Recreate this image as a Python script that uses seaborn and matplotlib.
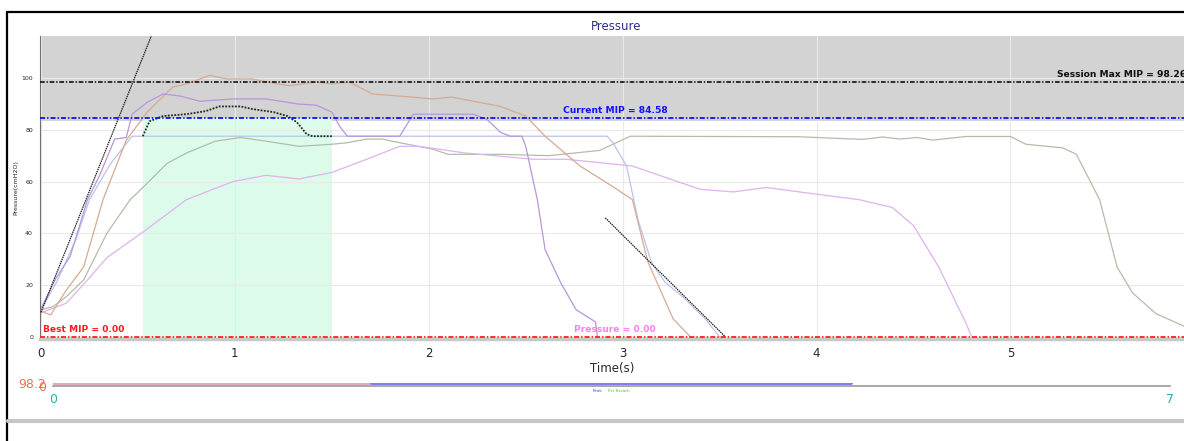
import matplotlib
matplotlib.use("Agg")
import matplotlib.pyplot as plt
from matplotlib.lines import Line2D
from matplotlib.ticker import MultipleLocator
import seaborn as sns

# Кривые давления по вдохам (время, с / давление, cmH2O)
brown_t = [0, 0.05, 0.13, 0.22, 0.32, 0.44, 0.55, 0.68, 0.75, 0.87, 0.96, 1.09, 1.22, 1.28, 1.42, 1.5,
           1.59, 1.71, 1.85, 2.02, 2.12, 2.37, 2.5, 2.6, 2.78, 2.95, 3.05, 3.13, 3.26, 3.35]
brown_p = [10, 8.5, 18, 27, 53, 76, 87, 96.5, 97.7, 101, 99.6, 99.6, 97.7, 97, 98.4, 97.7,
           98.4, 93.8, 93, 91.9, 92.6, 89, 85.3, 77.5, 66, 58, 53, 29, 7, 0]

purple_t = [0, 0.08, 0.15, 0.24, 0.3, 0.38, 0.44, 0.47, 0.55, 0.63, 0.72, 0.82, 0.99, 1.16, 1.33, 1.42,
            1.5, 1.54, 1.58, 1.85, 1.92, 2.23, 2.3, 2.37, 2.42, 2.48, 2.5, 2.56, 2.6, 2.68, 2.76, 2.86, 2.87]
purple_p = [11, 23, 31, 53, 62, 76.4, 77, 86, 90.7, 93.8, 93, 91, 91.9, 91.9, 89.9, 89.5,
            86.8, 81.4, 77.5, 77.5, 86, 86, 84, 79, 77.5, 77.5, 73.6, 53, 33.7, 21, 10.5, 5.8, 0]

lavender_t = [0, 0.08, 0.18, 0.25, 0.36, 0.47, 2.92, 2.95, 3.02, 3.08, 3.15, 3.22, 3.31, 3.43, 3.5]
lavender_p = [10.5, 21, 37.6, 53, 67, 77.5, 77.5, 75, 66, 45, 28.5, 21, 15.5, 6.6, 0]

sage_t = [0, 0.06, 0.13, 0.22, 0.34, 0.46, 0.53, 0.65, 0.75, 0.9, 1.03, 1.16, 1.33, 1.5, 1.58, 1.68,
          1.76, 1.85, 2.02, 2.1, 2.37, 2.62, 2.88, 3.04, 3.91, 4.13, 4.24, 4.34, 4.43, 4.52, 4.6, 4.77,
          5.0, 5.08, 5.27, 5.34, 5.46, 5.55, 5.63, 5.75, 5.9]
sage_p = [10.5, 11.6, 15.5, 22, 40, 53, 58, 67, 71, 75.6, 77, 75.6, 73.6, 74.4, 75, 76.4,
          76.4, 75, 72.5, 70.5, 70.5, 70, 72, 77.5, 77.3, 76.6, 76.3, 77.2, 76.4, 77, 76, 77.4,
          77.4, 74.4, 73, 70.5, 53, 27, 17, 9, 4]

pink_t = [0, 0.13, 0.24, 0.34, 0.53, 0.75, 0.99, 1.16, 1.33, 1.5, 1.68, 1.85, 1.95, 2.19, 2.54, 2.71,
          3.05, 3.4, 3.57, 3.74, 3.91, 4.22, 4.39, 4.5, 4.63, 4.77, 4.8]
pink_p = [9.3, 13, 22, 30.6, 40.7, 53, 60, 62.4, 61, 63.5, 68.6, 73.6, 73.6, 71, 68.6, 68.6,
          66, 57, 56, 57.7, 56, 53, 50, 43, 27, 5.4, 0]

# Плато (пунктир) внутри зелёной зоны
plateau_t = [0.525, 0.56, 0.63, 0.75, 0.85, 0.92, 1.03, 1.09, 1.2, 1.27, 1.32, 1.37, 1.4, 1.5]
plateau_p = [77.5, 83.3, 85.3, 86, 87.2, 89, 89, 88, 86.8, 85.3, 82.9, 78.3, 77.5, 77.5]

# Касательные (подъём и спад)
rise_t = [0, 0.6]
rise_p = [9.5, 122]
fall_t = [2.91, 3.53]
fall_p = [46, 0]

# Уровни MIP
session_max_mip = 98.26
current_mip = 84.58
best_mip = 0.00
pressure_now = 0.00
zone_low = 83.3            # нижняя граница серой зоны
window_start, window_end = 0.525, 1.5

# Нижняя шкала-ползунок
slider_max = 7
slider_levels = [0, 98.2]
range_pink = [0, 2]
range_peak = [2, 5]

W, H = 1184, 441


def fx(px):
    return px / W


def fy(py):
    return 1 - py / H


def draw_main(fig):
    ax = fig.add_axes([fx(40), fy(339), fx(W) - fx(40), fy(36) - fy(339)])
    ax.set_xlim(-0.005, 5.895)
    ax.set_ylim(-0.8, 116.2)

    # Зоны
    ax.axhspan(zone_low, 120, color="#d3d3d3", lw=0, zorder=0.2)
    ax.fill_between([window_start, window_end], 0, current_mip, color="#dcfbea", lw=0, zorder=0.3)

    # Сетка
    ax.grid(True, color="#e9e9e9", lw=0.8, zorder=0.5)
    ax.set_axisbelow(True)

    # Кривые
    curves = [
        (sage_t, sage_p, "#b0bea9"),
        (pink_t, pink_p, "#e0b2ef"),
        (lavender_t, lavender_p, "#bcc3ea"),
        (brown_t, brown_p, "#d6aa92"),
        (purple_t, purple_p, "#b995da"),
    ]
    for t, p, c in curves:
        sns.lineplot(x=t, y=p, color=c, lw=0.9, sort=False, estimator=None, ax=ax, zorder=2)

    sns.lineplot(x=plateau_t, y=plateau_p, color="#1e2a1e", lw=1.3, sort=False, estimator=None,
                 ax=ax, zorder=3, linestyle=(0, (1, 0.8)))
    sns.lineplot(x=rise_t, y=rise_p, color="#222222", lw=0.9, sort=False, estimator=None,
                 ax=ax, zorder=3, linestyle=(0, (1.2, 0.6)))
    sns.lineplot(x=fall_t, y=fall_p, color="#222222", lw=0.9, sort=False, estimator=None,
                 ax=ax, zorder=3, linestyle=(0, (1.2, 0.6)))

    # Горизонтальные уровни
    dashdot = (0, (2.8, 1.1, 0.8, 1.1))
    ax.axhline(session_max_mip, color="#111111", lw=1.2, ls=dashdot, zorder=4)
    ax.axhline(current_mip, color="#1010ff", lw=1.3, ls=dashdot, zorder=4)
    ax.axhline(best_mip, color="#ff2020", lw=1.3, ls=dashdot, zorder=4, clip_on=False)

    ax.text(5.24, session_max_mip + 1.3, f"Session Max MIP = {session_max_mip:.2f}",
            fontsize=6.6, fontweight="bold", color="#111111", va="bottom", ha="left")
    ax.text(2.69, current_mip + 1.2, f"Current MIP = {current_mip:.2f}",
            fontsize=6.6, fontweight="bold", color="#1010ff", va="bottom", ha="left")
    ax.text(0.01, best_mip + 1.0, f"Best MIP = {best_mip:.2f}",
            fontsize=6.6, fontweight="bold", color="#ff1a1a", va="bottom", ha="left")
    ax.text(2.75, pressure_now + 1.0, f"Pressure = {pressure_now:.2f}",
            fontsize=6.6, fontweight="bold", color="#ff80e6", va="bottom", ha="left")

    # Оси
    ax.xaxis.set_major_locator(MultipleLocator(1))
    ax.xaxis.set_minor_locator(MultipleLocator(0.2))
    ax.yaxis.set_major_locator(MultipleLocator(20))
    ax.yaxis.set_minor_locator(MultipleLocator(5))
    ax.tick_params(axis="x", which="major", labelsize=8.5, length=4, color="#909090", pad=2)
    ax.tick_params(axis="x", which="minor", length=3, color="#a0a0a0")
    ax.tick_params(axis="y", which="major", labelsize=4.5, length=3, color="#707070", pad=2)
    ax.tick_params(axis="y", which="minor", length=2, color="#909090")
    ax.set_xticklabels([str(i) for i in range(-1, 7)])
    ax.set_xlabel("Time(s)", fontsize=8.5, labelpad=1)
    ax.set_ylabel("Pressure(cmH2O)", fontsize=4.5, labelpad=2)

    for side in ["top", "right"]:
        ax.spines[side].set_visible(False)
    ax.spines["left"].set_color("#707070")
    ax.spines["left"].set_linewidth(0.8)
    ax.spines["bottom"].set_color("#c8c8c8")
    ax.spines["bottom"].set_linewidth(2.5)
    return ax


def draw_slider(fig):
    sx = fig.add_axes([fx(53), fy(386), fx(1170) - fx(53), fy(383) - fy(386)])
    sx.set_xlim(0, slider_max)
    sx.set_ylim(slider_levels[0], slider_levels[1])
    sx.set_facecolor("none")

    sns.lineplot(x=range_pink, y=[slider_levels[1]] * 2, color="#e2a9bd", lw=2.2, ax=sx)
    sns.lineplot(x=range_peak, y=[slider_levels[1]] * 2, color="#7f7ff2", lw=3, ax=sx)

    sx.set_xticks([0, slider_max])
    sx.set_xticklabels(["0", str(slider_max)])
    sx.set_yticks(slider_levels)
    sx.set_yticklabels(["0", f"{slider_levels[1]:.1f}"])
    sx.tick_params(axis="x", length=5, color="#9a9a9a", labelsize=9, labelcolor="#28b0b0", pad=0)
    sx.tick_params(axis="y", length=4, color="#9a9a9a", labelsize=9, labelcolor="#f36a5a", pad=1)
    sx.set_xlabel("")
    sx.set_ylabel("")
    for side in ["top", "right"]:
        sx.spines[side].set_visible(False)
    sx.spines["bottom"].set_color("#9a9a9a")
    sx.spines["bottom"].set_linewidth(1.2)
    sx.spines["left"].set_visible(False)
    sx.grid(False)

    fig.text(fx(593), fy(391), "Peak", fontsize=3, color="#5050c8", va="center")
    fig.text(fx(608), fy(391), "Per Breath", fontsize=3, color="#50c050", va="center")


def draw_frame(fig):
    # Рамка окна
    fig.add_artist(Line2D([fx(7), 1], [fy(12), fy(12)], color="black", lw=1.6,
                          transform=fig.transFigure))
    fig.add_artist(Line2D([fx(7), fx(7)], [fy(12), 0], color="black", lw=1.6,
                          transform=fig.transFigure))
    fig.add_artist(Line2D([fx(8), 1], [fy(421), fy(421)], color="#c6c6c6", lw=3,
                          transform=fig.transFigure))
    fig.text(fx(616), fy(27), "Pressure", fontsize=8.5, color="#2c2c8c", ha="center", va="center")


def main():
    sns.set_theme(style="white")
    plt.rcParams["font.family"] = ["DejaVu Sans"]
    fig = plt.figure(figsize=(W / 100, H / 100), dpi=100)
    fig.patch.set_facecolor("white")
    draw_main(fig)
    draw_slider(fig)
    draw_frame(fig)
    fig.savefig("out.png", dpi=100)


if __name__ == "__main__":
    main()
